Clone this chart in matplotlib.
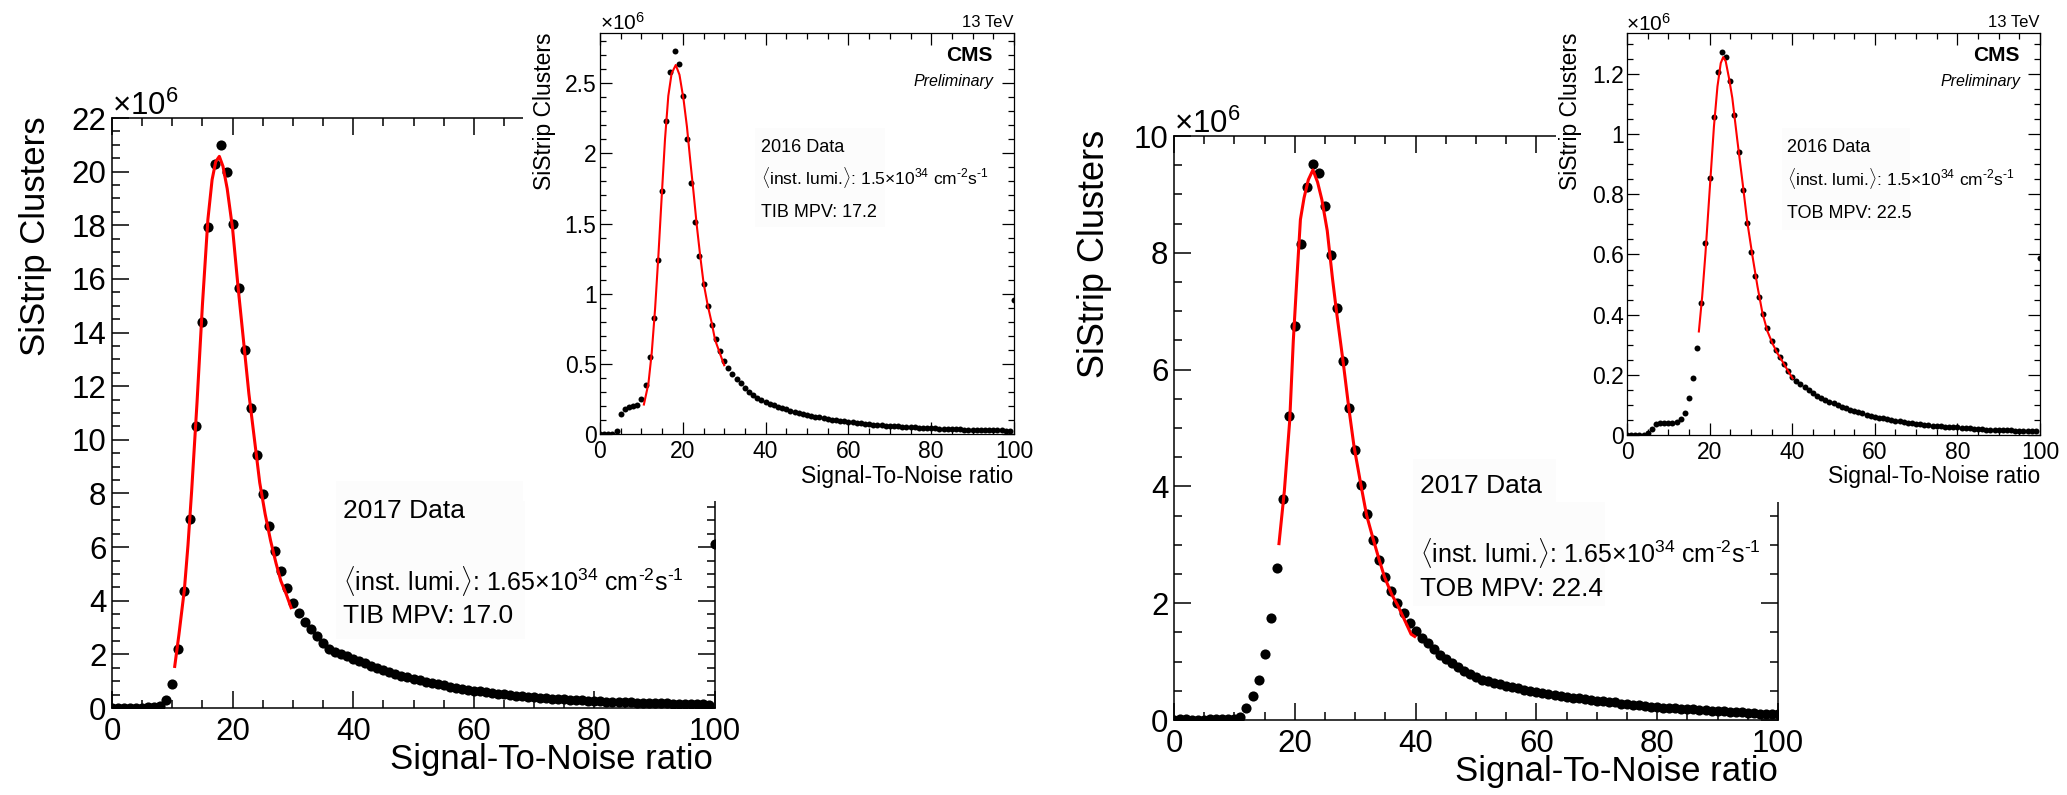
import matplotlib
matplotlib.use('Agg')
import matplotlib.pyplot as plt
from matplotlib.ticker import MultipleLocator
from matplotlib.patches import Rectangle

W, H = 2067, 795
plt.rcParams['font.family'] = ['Liberation Sans', 'DejaVu Sans']
plt.rcParams['mathtext.fontset'] = 'custom'
plt.rcParams['mathtext.rm'] = 'Liberation Sans'
plt.rcParams['mathtext.it'] = 'Liberation Sans:italic'
plt.rcParams['mathtext.bf'] = 'Liberation Sans:bold'

# ---------------- data (values in units of 10^6 clusters) ----------------
snr = list(range(0, 101))

tib_2017 = [0.0, 0.0, 0.0, 0.0, 0.0, 0.0, 0.02, 0.04, 0.08, 0.28,
            0.88, 2.19, 4.36, 7.05, 10.5, 14.4, 17.95, 20.3, 21.0, 20.0,
            18.05, 15.65, 13.35, 11.2, 9.45, 7.98, 6.78, 5.85, 5.1, 4.48,
            3.92, 3.55, 3.22, 2.93, 2.67, 2.42, 2.2, 2.1, 2.02, 1.93,
            1.84, 1.75, 1.66, 1.57, 1.49, 1.41, 1.34, 1.27, 1.2, 1.14,
            1.08, 1.03, 0.98, 0.93, 0.88, 0.84, 0.8, 0.76, 0.72, 0.68,
            0.65, 0.62, 0.59, 0.56, 0.53, 0.51, 0.49, 0.46, 0.44, 0.42,
            0.4, 0.38, 0.37, 0.35, 0.34, 0.32, 0.31, 0.3, 0.28, 0.27,
            0.26, 0.25, 0.24, 0.23, 0.22, 0.21, 0.21, 0.2, 0.19, 0.19,
            0.18, 0.17, 0.17, 0.16, 0.16, 0.15, 0.15, 0.14, 0.14, 0.13,
            6.1]

tob_2017 = [0.0, 0.01, 0.01, 0.0, 0.0, 0.0, 0.01, 0.01, 0.01, 0.01,
            0.01, 0.05, 0.2, 0.41, 0.68, 1.13, 1.74, 2.6, 3.79, 5.2,
            6.75, 8.15, 9.12, 9.52, 9.37, 8.8, 7.96, 7.05, 6.15, 5.34,
            4.62, 4.02, 3.52, 3.09, 2.74, 2.45, 2.21, 2.0, 1.83, 1.66,
            1.52, 1.41, 1.31, 1.21, 1.12, 1.04, 0.97, 0.9, 0.84, 0.78,
            0.73, 0.69, 0.66, 0.63, 0.61, 0.58, 0.56, 0.54, 0.52, 0.5,
            0.48, 0.46, 0.44, 0.43, 0.41, 0.4, 0.38, 0.37, 0.36, 0.34,
            0.33, 0.32, 0.31, 0.3, 0.28, 0.27, 0.26, 0.25, 0.24, 0.23,
            0.22, 0.21, 0.21, 0.2, 0.19, 0.18, 0.18, 0.17, 0.17, 0.16,
            0.15, 0.15, 0.14, 0.14, 0.13, 0.12, 0.12, 0.11, 0.11, 0.1,
            0.1]

tib_2016 = [0.0, 0.0, 0.0, 0.0, 0.02, 0.14, 0.18, 0.19, 0.2, 0.21,
            0.25, 0.35, 0.55, 0.83, 1.24, 1.73, 2.23, 2.58, 2.73, 2.64,
            2.41, 2.1, 1.79, 1.51, 1.27, 1.07, 0.91, 0.78, 0.68, 0.59,
            0.52, 0.47, 0.43, 0.39, 0.36, 0.33, 0.3, 0.28, 0.26, 0.245,
            0.23, 0.217, 0.205, 0.195, 0.185, 0.176, 0.167, 0.159, 0.151, 0.144,
            0.137, 0.13, 0.124, 0.118, 0.113, 0.108, 0.103, 0.098, 0.094, 0.09,
            0.086, 0.082, 0.079, 0.076, 0.073, 0.07, 0.067, 0.064, 0.062, 0.06,
            0.058, 0.056, 0.054, 0.052, 0.05, 0.048, 0.047, 0.045, 0.044, 0.042,
            0.041, 0.04, 0.038, 0.037, 0.036, 0.035, 0.034, 0.033, 0.032, 0.031,
            0.03, 0.029, 0.029, 0.028, 0.027, 0.026, 0.026, 0.025, 0.024, 0.024,
            0.957]

tob_2016 = [0.0, 0.0, 0.0, 0.0, 0.0, 0.005, 0.02, 0.037, 0.039, 0.039,
            0.039, 0.041, 0.044, 0.052, 0.072, 0.122, 0.191, 0.288, 0.44, 0.637,
            0.854, 1.057, 1.205, 1.272, 1.255, 1.175, 1.064, 0.94, 0.813, 0.706,
            0.608, 0.527, 0.46, 0.402, 0.355, 0.314, 0.283, 0.258, 0.235, 0.213,
            0.194, 0.181, 0.169, 0.158, 0.148, 0.139, 0.131, 0.124, 0.117, 0.111,
            0.105, 0.099, 0.094, 0.089, 0.084, 0.08, 0.076, 0.072, 0.068, 0.064,
            0.061, 0.058, 0.055, 0.052, 0.05, 0.047, 0.045, 0.043, 0.041, 0.039,
            0.037, 0.036, 0.034, 0.033, 0.031, 0.03, 0.029, 0.028, 0.027, 0.026,
            0.025, 0.024, 0.023, 0.022, 0.021, 0.02, 0.019, 0.018, 0.018, 0.017,
            0.016, 0.016, 0.015, 0.015, 0.014, 0.014, 0.013, 0.013, 0.012, 0.012,
            0.588]

# fitted curves
tib_2017_fit_x = [10.4, 11.1, 12.0, 12.6, 13.2, 14.1, 15.0, 15.9, 16.6, 17.2, 17.8, 18.4,
                  19.1, 20.0, 20.9, 21.8, 22.7, 23.6, 24.5, 25.4, 26.3, 27.2, 28.0, 28.9, 29.7]
tib_2017_fit_y = [1.55, 2.74, 4.41, 6.07, 8.06, 11.39, 15.05, 18.21, 19.7, 20.37, 20.57, 20.2,
                  19.37, 17.87, 15.71, 13.72, 11.72, 10.06, 8.4, 7.23, 6.24, 5.4, 4.74, 4.24, 3.74]

tib_2016_fit_x = [10.6, 11.7, 12.5, 13.3, 14.1, 14.9, 15.7, 16.5, 17.3, 18.3, 19.2, 20.2,
                  21.0, 21.8, 22.6, 23.4, 24.2, 25.0, 26.0, 27.0, 27.8, 28.9, 30.0]
tib_2016_fit_y = [0.21, 0.36, 0.58, 0.89, 1.27, 1.69, 2.1, 2.41, 2.57, 2.63, 2.56, 2.38,
                  2.19, 1.95, 1.72, 1.48, 1.27, 1.08, 0.92, 0.79, 0.67, 0.58, 0.49]

tob_2017_fit_x = [17.38, 18.27, 19.16, 19.75, 20.34, 20.93, 21.53, 22.24, 23.0, 23.77,
                  24.48, 25.37, 26.25, 26.97, 28.03, 28.92, 29.81, 30.99, 31.88, 32.89,
                  33.95, 34.85, 36.05, 37.05, 38.05, 39.25, 39.85]
tob_2017_fit_y = [3.02, 3.92, 5.13, 6.49, 7.55, 8.57, 8.94, 9.25, 9.42, 9.21,
                  8.91, 8.38, 7.55, 6.94, 6.11, 5.36, 4.68, 4.0, 3.51, 3.13,
                  2.75, 2.45, 2.15, 1.96, 1.74, 1.47, 1.43]

tob_2016_fit_x = [17.4, 18.2, 19.0, 20.0, 21.05, 21.9, 22.7, 23.3, 23.9, 24.7, 25.5, 26.7,
                  28.0, 29.1, 30.4, 31.6, 32.8, 34.0, 35.2, 36.4, 37.7, 38.9, 40.1]
tob_2016_fit_y = [0.344, 0.46, 0.604, 0.81, 1.025, 1.158, 1.236, 1.256, 1.242, 1.186, 1.12, 0.981,
                  0.837, 0.71, 0.593, 0.493, 0.405, 0.345, 0.305, 0.272, 0.243, 0.215, 0.188]

x_ticks = [0, 20, 40, 60, 80, 100]
x_ticklabels = ['0', '20', '40', '60', '80', '100']
y_ticks_tib17 = [0, 2, 4, 6, 8, 10, 12, 14, 16, 18, 20, 22]
y_ticklabels_tib17 = ['0', '2', '4', '6', '8', '10', '12', '14', '16', '18', '20', '22']
y_ticks_tob17 = [0, 2, 4, 6, 8, 10]
y_ticklabels_tob17 = ['0', '2', '4', '6', '8', '10']
y_ticks_tib16 = [0, 0.5, 1, 1.5, 2, 2.5]
y_ticklabels_tib16 = ['0', '0.5', '1', '1.5', '2', '2.5']
y_ticks_tob16 = [0, 0.2, 0.4, 0.6, 0.8, 1.0, 1.2]
y_ticklabels_tob16 = ['0', '0.2', '0.4', '0.6', '0.8', '1', '1.2']

xtitle = 'Signal-To-Noise ratio'
ytitle = 'SiStrip Clusters'
lumi17 = r'$\langle$inst. lumi.$\rangle$: 1.65×10$^{34}$ cm$^{\text{-}2}$s$^{\text{-}1}$'
lumi16 = r'$\langle$inst. lumi.$\rangle$: 1.5×10$^{34}$ cm$^{\text{-}2}$s$^{\text{-}1}$'

# ---------------- figure ----------------
fig = plt.figure(figsize=(W / 100, H / 100), dpi=100)


def px_axes(l, t, r, b, z):
    ax = fig.add_axes([l / W, 1 - b / H, (r - l) / W, (b - t) / H])
    ax.set_zorder(z)
    return ax


def ftext(x, y, s, **kw):
    return fig.text(x / W, 1 - y / H, s, **kw)


def frect(l, t, r, b, color, z):
    fig.add_artist(Rectangle((l / W, 1 - b / H), (r - l) / W, (b - t) / H,
                             transform=fig.transFigure, facecolor=color,
                             edgecolor='none', zorder=z))


def style(ax, ymax, yt, ytl, yminor, big):
    ax.set_xlim(0, 100)
    ax.set_ylim(0, ymax)
    ax.set_xticks(x_ticks)
    ax.set_xticklabels(x_ticklabels)
    ax.xaxis.set_minor_locator(MultipleLocator(5))
    ax.set_yticks(yt)
    ax.set_yticklabels(ytl)
    ax.yaxis.set_minor_locator(MultipleLocator(yminor))
    if big:
        lw, ls, maj, mnr, xpad, ypad = 1.1, 22.5, 12.0, 6.0, 6.5, 4.0
    else:
        lw, ls, maj, mnr, xpad, ypad = 0.9, 16.5, 8.6, 4.5, 4.5, 2.5
    ax.tick_params(which='both', direction='in', top=True, right=True,
                   width=lw, colors='black', labelsize=ls)
    ax.tick_params(which='major', length=maj)
    ax.tick_params(which='minor', length=mnr)
    ax.tick_params(axis='x', pad=xpad)
    ax.tick_params(axis='y', pad=ypad)
    for sp in ax.spines.values():
        sp.set_linewidth(lw)


# --- main 2017 TIB ---
ax1 = px_axes(112, 118, 715, 708, 0)
style(ax1, 22, y_ticks_tib17, y_ticklabels_tib17, 0.5, True)
ax1.plot(snr, tib_2017, 'o', color='black', ms=7.3, mew=0, zorder=2)
ax1.plot(tib_2017_fit_x, tib_2017_fit_y, color='red', lw=2.2, zorder=3)

# --- main 2017 TOB ---
ax3 = px_axes(1174, 136, 1778, 720, 0)
style(ax3, 10, y_ticks_tob17, y_ticklabels_tob17, 0.5, True)
ax3.plot(snr, tob_2017, 'o', color='black', ms=7.3, mew=0, zorder=2)
ax3.plot(tob_2017_fit_x, tob_2017_fit_y, color='red', lw=2.2, zorder=3)

# main text boxes (very faint)
frect(336, 481, 525, 639, '#fcfcfc', 0.5)
frect(1413, 459, 1605, 606, '#fcfcfc', 0.5)

# inset pads (white) covering the main plots
frect(523, 0, 1050, 501, 'white', 1)
frect(1556, 0, 2067, 502, 'white', 1)

# --- inset 2016 TIB ---
ax2 = px_axes(600, 33, 1014, 434, 2)
style(ax2, 2.858, y_ticks_tib16, y_ticklabels_tib16, 0.1, False)
ax2.plot(snr, tib_2016, 'o', color='black', ms=4.3, mew=0, zorder=2)
ax2.plot(tib_2016_fit_x, tib_2016_fit_y, color='red', lw=1.5, zorder=3)

# --- inset 2016 TOB ---
ax4 = px_axes(1627, 33, 2040, 435, 2)
style(ax4, 1.336, y_ticks_tob16, y_ticklabels_tob16, 0.05, False)
ax4.plot(snr, tob_2016, 'o', color='black', ms=4.3, mew=0, zorder=2)
ax4.plot(tob_2016_fit_x, tob_2016_fit_y, color='red', lw=1.5, zorder=3)

# inset text boxes (very faint)
frect(755, 128, 885, 227, '#fcfcfc', 2.5)
frect(1782, 128, 1910, 230, '#fcfcfc', 2.5)

# ---------------- texts ----------------
# axis titles
ftext(713, 769, xtitle, ha='right', va='baseline', fontsize=25)
ftext(1778, 781, xtitle, ha='right', va='baseline', fontsize=25)
ftext(1013, 483, xtitle, ha='right', va='baseline', fontsize=16.5)
ftext(2040, 483, xtitle, ha='right', va='baseline', fontsize=16.5)
ftext(36, 116, ytitle, ha='center', va='top', rotation=90, fontsize=25)
ftext(1094, 130, ytitle, ha='center', va='top', rotation=90, fontsize=26)
ftext(545, 33, ytitle, ha='center', va='top', rotation=90, fontsize=16.5)
ftext(1570, 33, ytitle, ha='center', va='top', rotation=90, fontsize=16.5)

# exponents
ftext(112, 115, r'×10$^{6}$', ha='left', va='baseline', fontsize=22.5)
ftext(1174, 133, r'×10$^{6}$', ha='left', va='baseline', fontsize=22.5)
ftext(600, 30, r'×10$^{6}$', ha='left', va='baseline', fontsize=15)
ftext(1626, 31, r'×10$^{6}$', ha='left', va='baseline', fontsize=15)

# CMS labels on insets
for xr, xc in [(1013, 993), (2039, 2020)]:
    ftext(xr, 27, '13 TeV', ha='right', va='baseline', fontsize=12)
    ftext(xc, 61, 'CMS', ha='right', va='baseline', fontsize=15, fontweight='bold')
    ftext(xc, 86, 'Preliminary', ha='right', va='baseline', fontsize=11.5, fontstyle='italic')

# info text, main plots
ftext(343, 518, '2017 Data', ha='left', va='baseline', fontsize=19)
ftext(343, 590, lumi17, ha='left', va='baseline', fontsize=18)
ftext(343, 623, 'TIB MPV: 17.0', ha='left', va='baseline', fontsize=19)
ftext(1420, 493, '2017 Data', ha='left', va='baseline', fontsize=19)
ftext(1420, 562, lumi17, ha='left', va='baseline', fontsize=18)
ftext(1420, 596, 'TOB MPV: 22.4', ha='left', va='baseline', fontsize=19)

# info text, insets
ftext(761, 152, '2016 Data', ha='left', va='baseline', fontsize=13, zorder=4)
ftext(761, 184, lumi16, ha='left', va='baseline', fontsize=12.5, zorder=4)
ftext(761, 217, 'TIB MPV: 17.2', ha='left', va='baseline', fontsize=13, zorder=4)
ftext(1787, 152, '2016 Data', ha='left', va='baseline', fontsize=13, zorder=4)
ftext(1787, 185, lumi16, ha='left', va='baseline', fontsize=12.5, zorder=4)
ftext(1787, 218, 'TOB MPV: 22.5', ha='left', va='baseline', fontsize=13, zorder=4)

fig.savefig('out.png', dpi=100, facecolor='white')
